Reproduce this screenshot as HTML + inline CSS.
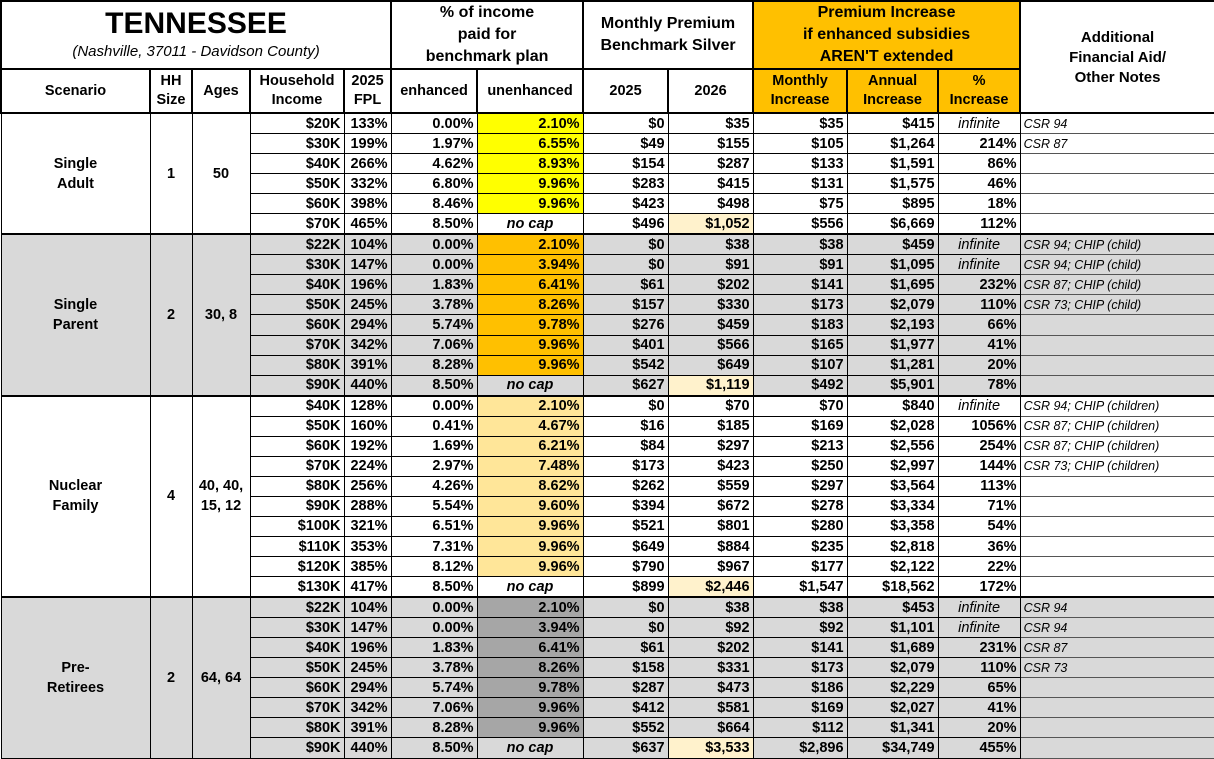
<!DOCTYPE html>
<html><head><meta charset="utf-8"><style>
body{margin:0;background:#fff;}
table{border-collapse:collapse;table-layout:fixed;width:1214px;font-family:"Liberation Sans",Arial,sans-serif;font-weight:bold;font-size:14.5px;color:#000;}
td{border:1px solid #000;padding:0 3px;height:19.05px;line-height:18px;text-align:right;white-space:nowrap;overflow:hidden;}
tr.g td{border-top:2px solid #000;}
td.c{text-align:center;}
td.n{text-align:left;font-weight:normal;font-style:italic;font-size:12.5px;border-color:#555;}
td.i{text-align:center;font-weight:normal;font-style:italic;}
td.nc{text-align:center;font-style:italic;}
.h1 td{height:66px;text-align:center;line-height:22px;border:2px solid #000;}
.h2 td{height:42px;text-align:center;line-height:19px;border:2px solid #000;}
.or{background:#ffc000;}
.gr td{background:#d9d9d9;}
.y{background:#ffff00 !important;}
.o{background:#ffc000 !important;}
.l{background:#ffe699 !important;}
.d{background:#a6a6a6 !important;}
.p{background:#fff2cc !important;}
td.s{text-align:center;vertical-align:middle;line-height:20px;}
.gr td.n{background:#d9d9d9;}
</style></head><body>
<table>
<colgroup><col style="width:149px"><col style="width:42px"><col style="width:58px"><col style="width:94px"><col style="width:47px"><col style="width:86px"><col style="width:106px"><col style="width:85px"><col style="width:85px"><col style="width:94px"><col style="width:91px"><col style="width:82px"><col style="width:195px"></colgroup>
<tr class="h1"><td colspan="5" style="line-height:normal"><div style="font-size:30px;line-height:34px">TENNESSEE</div><div style="font-weight:normal;font-style:italic;font-size:15px;line-height:22px">(Nashville, 37011 - Davidson County)</div></td>
<td colspan="2" style="font-size:16px">% of income<br>paid for<br>benchmark plan</td>
<td colspan="2" style="font-size:16px">Monthly Premium<br>Benchmark Silver</td>
<td colspan="3" class="or" style="font-size:16px">Premium Increase<br>if enhanced subsidies<br>AREN'T extended</td>
<td rowspan="2" style="vertical-align:top;padding-top:26px;font-size:15px;line-height:20px">Additional<br>Financial Aid/<br>Other Notes</td></tr>
<tr class="h2"><td>Scenario</td><td>HH<br>Size</td><td>Ages</td><td>Household<br>Income</td><td>2025<br>FPL</td><td>enhanced</td><td>unenhanced</td><td>2025</td><td>2026</td><td class="or">Monthly<br>Increase</td><td class="or">Annual<br>Increase</td><td class="or">%<br>Increase</td></tr>

<tr class="g"><td rowspan="6" class="s">Single<br>Adult</td><td rowspan="6" class="s">1</td><td rowspan="6" class="s">50</td><td>$20K</td><td>133%</td><td>0.00%</td><td class="y">2.10%</td><td>$0</td><td>$35</td><td>$35</td><td>$415</td><td class="i">infinite</td><td class="n">CSR 94</td></tr>
<tr><td>$30K</td><td>199%</td><td>1.97%</td><td class="y">6.55%</td><td>$49</td><td>$155</td><td>$105</td><td>$1,264</td><td>214%</td><td class="n">CSR 87</td></tr>
<tr><td>$40K</td><td>266%</td><td>4.62%</td><td class="y">8.93%</td><td>$154</td><td>$287</td><td>$133</td><td>$1,591</td><td>86%</td><td class="n"></td></tr>
<tr><td>$50K</td><td>332%</td><td>6.80%</td><td class="y">9.96%</td><td>$283</td><td>$415</td><td>$131</td><td>$1,575</td><td>46%</td><td class="n"></td></tr>
<tr><td>$60K</td><td>398%</td><td>8.46%</td><td class="y">9.96%</td><td>$423</td><td>$498</td><td>$75</td><td>$895</td><td>18%</td><td class="n"></td></tr>
<tr><td>$70K</td><td>465%</td><td>8.50%</td><td class="nc">no cap</td><td>$496</td><td class="p">$1,052</td><td>$556</td><td>$6,669</td><td>112%</td><td class="n"></td></tr>

<tr class="g gr"><td rowspan="8" class="s">Single<br>Parent</td><td rowspan="8" class="s">2</td><td rowspan="8" class="s">30, 8</td><td>$22K</td><td>104%</td><td>0.00%</td><td class="o">2.10%</td><td>$0</td><td>$38</td><td>$38</td><td>$459</td><td class="i">infinite</td><td class="n">CSR 94; CHIP (child)</td></tr>
<tr class="gr"><td>$30K</td><td>147%</td><td>0.00%</td><td class="o">3.94%</td><td>$0</td><td>$91</td><td>$91</td><td>$1,095</td><td class="i">infinite</td><td class="n">CSR 94; CHIP (child)</td></tr>
<tr class="gr"><td>$40K</td><td>196%</td><td>1.83%</td><td class="o">6.41%</td><td>$61</td><td>$202</td><td>$141</td><td>$1,695</td><td>232%</td><td class="n">CSR 87; CHIP (child)</td></tr>
<tr class="gr"><td>$50K</td><td>245%</td><td>3.78%</td><td class="o">8.26%</td><td>$157</td><td>$330</td><td>$173</td><td>$2,079</td><td>110%</td><td class="n">CSR 73; CHIP (child)</td></tr>
<tr class="gr"><td>$60K</td><td>294%</td><td>5.74%</td><td class="o">9.78%</td><td>$276</td><td>$459</td><td>$183</td><td>$2,193</td><td>66%</td><td class="n"></td></tr>
<tr class="gr"><td>$70K</td><td>342%</td><td>7.06%</td><td class="o">9.96%</td><td>$401</td><td>$566</td><td>$165</td><td>$1,977</td><td>41%</td><td class="n"></td></tr>
<tr class="gr"><td>$80K</td><td>391%</td><td>8.28%</td><td class="o">9.96%</td><td>$542</td><td>$649</td><td>$107</td><td>$1,281</td><td>20%</td><td class="n"></td></tr>
<tr class="gr"><td>$90K</td><td>440%</td><td>8.50%</td><td class="nc">no cap</td><td>$627</td><td class="p">$1,119</td><td>$492</td><td>$5,901</td><td>78%</td><td class="n"></td></tr>

<tr class="g"><td rowspan="10" class="s">Nuclear<br>Family</td><td rowspan="10" class="s">4</td><td rowspan="10" class="s">40, 40,<br>15, 12</td><td>$40K</td><td>128%</td><td>0.00%</td><td class="l">2.10%</td><td>$0</td><td>$70</td><td>$70</td><td>$840</td><td class="i">infinite</td><td class="n">CSR 94; CHIP (children)</td></tr>
<tr><td>$50K</td><td>160%</td><td>0.41%</td><td class="l">4.67%</td><td>$16</td><td>$185</td><td>$169</td><td>$2,028</td><td>1056%</td><td class="n">CSR 87; CHIP (children)</td></tr>
<tr><td>$60K</td><td>192%</td><td>1.69%</td><td class="l">6.21%</td><td>$84</td><td>$297</td><td>$213</td><td>$2,556</td><td>254%</td><td class="n">CSR 87; CHIP (children)</td></tr>
<tr><td>$70K</td><td>224%</td><td>2.97%</td><td class="l">7.48%</td><td>$173</td><td>$423</td><td>$250</td><td>$2,997</td><td>144%</td><td class="n">CSR 73; CHIP (children)</td></tr>
<tr><td>$80K</td><td>256%</td><td>4.26%</td><td class="l">8.62%</td><td>$262</td><td>$559</td><td>$297</td><td>$3,564</td><td>113%</td><td class="n"></td></tr>
<tr><td>$90K</td><td>288%</td><td>5.54%</td><td class="l">9.60%</td><td>$394</td><td>$672</td><td>$278</td><td>$3,334</td><td>71%</td><td class="n"></td></tr>
<tr><td>$100K</td><td>321%</td><td>6.51%</td><td class="l">9.96%</td><td>$521</td><td>$801</td><td>$280</td><td>$3,358</td><td>54%</td><td class="n"></td></tr>
<tr><td>$110K</td><td>353%</td><td>7.31%</td><td class="l">9.96%</td><td>$649</td><td>$884</td><td>$235</td><td>$2,818</td><td>36%</td><td class="n"></td></tr>
<tr><td>$120K</td><td>385%</td><td>8.12%</td><td class="l">9.96%</td><td>$790</td><td>$967</td><td>$177</td><td>$2,122</td><td>22%</td><td class="n"></td></tr>
<tr><td>$130K</td><td>417%</td><td>8.50%</td><td class="nc">no cap</td><td>$899</td><td class="p">$2,446</td><td>$1,547</td><td>$18,562</td><td>172%</td><td class="n"></td></tr>

<tr class="g gr"><td rowspan="8" class="s">Pre-<br>Retirees</td><td rowspan="8" class="s">2</td><td rowspan="8" class="s">64, 64</td><td>$22K</td><td>104%</td><td>0.00%</td><td class="d">2.10%</td><td>$0</td><td>$38</td><td>$38</td><td>$453</td><td class="i">infinite</td><td class="n">CSR 94</td></tr>
<tr class="gr"><td>$30K</td><td>147%</td><td>0.00%</td><td class="d">3.94%</td><td>$0</td><td>$92</td><td>$92</td><td>$1,101</td><td class="i">infinite</td><td class="n">CSR 94</td></tr>
<tr class="gr"><td>$40K</td><td>196%</td><td>1.83%</td><td class="d">6.41%</td><td>$61</td><td>$202</td><td>$141</td><td>$1,689</td><td>231%</td><td class="n">CSR 87</td></tr>
<tr class="gr"><td>$50K</td><td>245%</td><td>3.78%</td><td class="d">8.26%</td><td>$158</td><td>$331</td><td>$173</td><td>$2,079</td><td>110%</td><td class="n">CSR 73</td></tr>
<tr class="gr"><td>$60K</td><td>294%</td><td>5.74%</td><td class="d">9.78%</td><td>$287</td><td>$473</td><td>$186</td><td>$2,229</td><td>65%</td><td class="n"></td></tr>
<tr class="gr"><td>$70K</td><td>342%</td><td>7.06%</td><td class="d">9.96%</td><td>$412</td><td>$581</td><td>$169</td><td>$2,027</td><td>41%</td><td class="n"></td></tr>
<tr class="gr"><td>$80K</td><td>391%</td><td>8.28%</td><td class="d">9.96%</td><td>$552</td><td>$664</td><td>$112</td><td>$1,341</td><td>20%</td><td class="n"></td></tr>
<tr class="gr"><td>$90K</td><td>440%</td><td>8.50%</td><td class="nc">no cap</td><td>$637</td><td class="p">$3,533</td><td>$2,896</td><td>$34,749</td><td>455%</td><td class="n"></td></tr>
</table>
</body></html>
